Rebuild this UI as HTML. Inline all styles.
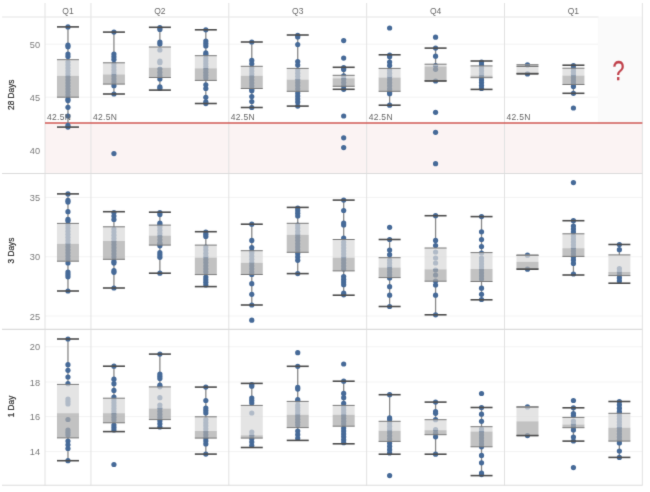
<!DOCTYPE html><html><head><meta charset="utf-8"><style>html,body{margin:0;padding:0;background:#fff;}svg{display:block;}</style></head><body>
<svg width="650" height="492" viewBox="0 0 650 492" font-family="Liberation Sans, sans-serif">
<defs><filter id="bl" x="0" y="0" width="650" height="492" filterUnits="userSpaceOnUse" color-interpolation-filters="sRGB"><feConvolveMatrix order="3" kernelMatrix="0.01134 0.08382 0.01134 0.08382 0.61935 0.08382 0.01134 0.08382 0.01134" edgeMode="duplicate"/></filter></defs><g filter="url(#bl)">
<rect x="0" y="0" width="650" height="492" fill="#fff"/>
<rect x="45.00" y="122.90" width="597.35" height="50.60" fill="#fbf3f3"/>
<line x1="45.0" x2="642.35" y1="44.2" y2="44.2" stroke="#f3f3f3" stroke-width="1"/>
<line x1="45.0" x2="642.35" y1="97.2" y2="97.2" stroke="#f3f3f3" stroke-width="1"/>
<line x1="45.0" x2="642.35" y1="197.4" y2="197.4" stroke="#f3f3f3" stroke-width="1"/>
<line x1="45.0" x2="642.35" y1="256.8" y2="256.8" stroke="#f3f3f3" stroke-width="1"/>
<line x1="45.0" x2="642.35" y1="316.0" y2="316.0" stroke="#f3f3f3" stroke-width="1"/>
<line x1="45.0" x2="642.35" y1="346.8" y2="346.8" stroke="#f3f3f3" stroke-width="1"/>
<line x1="45.0" x2="642.35" y1="382.0" y2="382.0" stroke="#f3f3f3" stroke-width="1"/>
<line x1="45.0" x2="642.35" y1="416.6" y2="416.6" stroke="#f3f3f3" stroke-width="1"/>
<line x1="45.0" x2="642.35" y1="451.6" y2="451.6" stroke="#f3f3f3" stroke-width="1"/>
<rect x="597.8" y="16.5" width="44.55" height="106.40" fill="#fafafa"/>
<line x1="45.00" x2="45.00" y1="3" y2="485.5" stroke="#e2e2e2" stroke-width="1"/>
<line x1="90.95" x2="90.95" y1="3" y2="485.5" stroke="#e2e2e2" stroke-width="1"/>
<line x1="228.80" x2="228.80" y1="3" y2="485.5" stroke="#e2e2e2" stroke-width="1"/>
<line x1="366.65" x2="366.65" y1="3" y2="485.5" stroke="#e2e2e2" stroke-width="1"/>
<line x1="504.50" x2="504.50" y1="3" y2="485.5" stroke="#e2e2e2" stroke-width="1"/>
<line x1="642.35" x2="642.35" y1="3" y2="485.5" stroke="#e2e2e2" stroke-width="1"/>
<line x1="2" x2="598.50" y1="17.0" y2="17.0" stroke="#e6e6e6" stroke-width="1.1"/>
<line x1="2" x2="642.35" y1="173.5" y2="173.5" stroke="#dcdcdc" stroke-width="1.1"/>
<line x1="2" x2="642.35" y1="329.4" y2="329.4" stroke="#dcdcdc" stroke-width="1.1"/>
<line x1="2" x2="642.35" y1="485.2" y2="485.2" stroke="#dcdcdc" stroke-width="1.1"/>
<text x="67.97" y="14.3" font-size="8.5" fill="#6a6a6a" text-anchor="middle">Q1</text>
<text x="159.88" y="14.3" font-size="8.5" fill="#6a6a6a" text-anchor="middle">Q2</text>
<text x="297.73" y="14.3" font-size="8.5" fill="#6a6a6a" text-anchor="middle">Q3</text>
<text x="435.58" y="14.3" font-size="8.5" fill="#6a6a6a" text-anchor="middle">Q4</text>
<text x="573.43" y="14.3" font-size="8.5" fill="#6a6a6a" text-anchor="middle">Q1</text>
<text transform="translate(14.4 94.7) rotate(-90)" font-size="8.3" fill="#2a2a2a" stroke="#2a2a2a" stroke-width="0.2" text-anchor="middle">28 Days</text>
<text x="40.1" y="47.70" font-size="9.2" fill="#7a7a7a" text-anchor="end">50</text>
<text x="40.1" y="100.70" font-size="9.2" fill="#7a7a7a" text-anchor="end">45</text>
<text x="40.1" y="153.70" font-size="9.2" fill="#7a7a7a" text-anchor="end">40</text>
<text transform="translate(14.4 250.5) rotate(-90)" font-size="8.3" fill="#2a2a2a" stroke="#2a2a2a" stroke-width="0.2" text-anchor="middle">3 Days</text>
<text x="40.1" y="200.90" font-size="9.2" fill="#7a7a7a" text-anchor="end">35</text>
<text x="40.1" y="260.30" font-size="9.2" fill="#7a7a7a" text-anchor="end">30</text>
<text x="40.1" y="319.50" font-size="9.2" fill="#7a7a7a" text-anchor="end">25</text>
<text transform="translate(14.4 406.5) rotate(-90)" font-size="8.3" fill="#2a2a2a" stroke="#2a2a2a" stroke-width="0.2" text-anchor="middle">1 Day</text>
<text x="40.1" y="350.30" font-size="9.2" fill="#7a7a7a" text-anchor="end">20</text>
<text x="40.1" y="385.50" font-size="9.2" fill="#7a7a7a" text-anchor="end">18</text>
<text x="40.1" y="420.10" font-size="9.2" fill="#7a7a7a" text-anchor="end">16</text>
<text x="40.1" y="455.10" font-size="9.2" fill="#7a7a7a" text-anchor="end">14</text>
<line x1="45.0" x2="642.35" y1="122.9" y2="122.9" stroke="#d05a56" stroke-width="1.5"/>
<line x1="67.97" x2="67.97" y1="26.9" y2="59.7" stroke="#888888" stroke-width="1.3"/>
<line x1="67.97" x2="67.97" y1="97.2" y2="127.1" stroke="#888888" stroke-width="1.3"/>
<circle cx="67.97" cy="26.90" r="2.6" fill="#466a98"/>
<circle cx="67.97" cy="45.20" r="2.6" fill="#466a98"/>
<circle cx="67.97" cy="46.80" r="2.6" fill="#466a98"/>
<circle cx="67.97" cy="54.00" r="2.6" fill="#466a98"/>
<circle cx="67.97" cy="56.50" r="2.6" fill="#466a98"/>
<circle cx="67.97" cy="62.00" r="2.6" fill="#466a98"/>
<circle cx="67.97" cy="65.00" r="2.6" fill="#466a98"/>
<circle cx="67.97" cy="68.00" r="2.6" fill="#466a98"/>
<circle cx="67.97" cy="71.00" r="2.6" fill="#466a98"/>
<circle cx="67.97" cy="74.00" r="2.6" fill="#466a98"/>
<circle cx="67.97" cy="77.00" r="2.6" fill="#466a98"/>
<circle cx="67.97" cy="80.00" r="2.6" fill="#466a98"/>
<circle cx="67.97" cy="83.00" r="2.6" fill="#466a98"/>
<circle cx="67.97" cy="86.00" r="2.6" fill="#466a98"/>
<circle cx="67.97" cy="89.00" r="2.6" fill="#466a98"/>
<circle cx="67.97" cy="92.00" r="2.6" fill="#466a98"/>
<circle cx="67.97" cy="95.00" r="2.6" fill="#466a98"/>
<circle cx="67.97" cy="99.00" r="2.6" fill="#466a98"/>
<circle cx="67.97" cy="100.60" r="2.6" fill="#466a98"/>
<circle cx="67.97" cy="107.30" r="2.6" fill="#466a98"/>
<circle cx="67.97" cy="116.00" r="2.6" fill="#466a98"/>
<circle cx="67.97" cy="125.40" r="2.6" fill="#466a98"/>
<circle cx="67.97" cy="127.10" r="2.6" fill="#466a98"/>
<rect x="56.97" y="59.7" width="22.0" height="16.20" fill="#d9d9d9" fill-opacity="0.72"/>
<rect x="56.97" y="75.9" width="22.0" height="21.30" fill="#ababab" fill-opacity="0.72"/>
<line x1="56.97" x2="78.97" y1="59.7" y2="59.7" stroke="#7a7a7a" stroke-width="1"/>
<line x1="56.97" x2="78.97" y1="97.2" y2="97.2" stroke="#7a7a7a" stroke-width="1"/>
<line x1="56.97" x2="78.97" y1="26.9" y2="26.9" stroke="#4d4d4d" stroke-width="1.6"/>
<line x1="56.97" x2="78.97" y1="127.1" y2="127.1" stroke="#4d4d4d" stroke-width="1.6"/>
<line x1="113.93" x2="113.93" y1="32.1" y2="62.8" stroke="#888888" stroke-width="1.3"/>
<line x1="113.93" x2="113.93" y1="84.1" y2="94.0" stroke="#888888" stroke-width="1.3"/>
<circle cx="113.93" cy="32.10" r="2.6" fill="#466a98"/>
<circle cx="113.93" cy="54.00" r="2.6" fill="#466a98"/>
<circle cx="113.93" cy="56.75" r="2.6" fill="#466a98"/>
<circle cx="113.93" cy="59.50" r="2.6" fill="#466a98"/>
<circle cx="113.93" cy="64.00" r="2.6" fill="#466a98"/>
<circle cx="113.93" cy="67.00" r="2.6" fill="#466a98"/>
<circle cx="113.93" cy="70.00" r="2.6" fill="#466a98"/>
<circle cx="113.93" cy="73.00" r="2.6" fill="#466a98"/>
<circle cx="113.93" cy="76.00" r="2.6" fill="#466a98"/>
<circle cx="113.93" cy="79.00" r="2.6" fill="#466a98"/>
<circle cx="113.93" cy="82.00" r="2.6" fill="#466a98"/>
<circle cx="113.93" cy="85.70" r="2.6" fill="#466a98"/>
<circle cx="113.93" cy="94.00" r="2.6" fill="#466a98"/>
<circle cx="113.93" cy="153.60" r="2.6" fill="#466a98"/>
<rect x="102.93" y="62.8" width="22.0" height="11.60" fill="#d9d9d9" fill-opacity="0.72"/>
<rect x="102.93" y="74.4" width="22.0" height="9.70" fill="#ababab" fill-opacity="0.72"/>
<line x1="102.93" x2="124.93" y1="62.8" y2="62.8" stroke="#7a7a7a" stroke-width="1"/>
<line x1="102.93" x2="124.93" y1="84.1" y2="84.1" stroke="#7a7a7a" stroke-width="1"/>
<line x1="102.93" x2="124.93" y1="32.1" y2="32.1" stroke="#4d4d4d" stroke-width="1.6"/>
<line x1="102.93" x2="124.93" y1="94.0" y2="94.0" stroke="#4d4d4d" stroke-width="1.6"/>
<line x1="159.88" x2="159.88" y1="27.3" y2="47.0" stroke="#888888" stroke-width="1.3"/>
<line x1="159.88" x2="159.88" y1="77.5" y2="90.1" stroke="#888888" stroke-width="1.3"/>
<circle cx="159.88" cy="27.70" r="2.6" fill="#466a98"/>
<circle cx="159.88" cy="29.50" r="2.6" fill="#466a98"/>
<circle cx="159.88" cy="42.00" r="2.6" fill="#466a98"/>
<circle cx="159.88" cy="44.00" r="2.6" fill="#466a98"/>
<circle cx="159.88" cy="50.00" r="2.6" fill="#466a98"/>
<circle cx="159.88" cy="61.15" r="2.6" fill="#466a98"/>
<circle cx="159.88" cy="62.75" r="2.6" fill="#466a98"/>
<circle cx="159.88" cy="69.00" r="2.6" fill="#466a98"/>
<circle cx="159.88" cy="72.33" r="2.6" fill="#466a98"/>
<circle cx="159.88" cy="75.67" r="2.6" fill="#466a98"/>
<circle cx="159.88" cy="79.00" r="2.6" fill="#466a98"/>
<circle cx="159.88" cy="86.80" r="2.6" fill="#466a98"/>
<circle cx="159.88" cy="88.40" r="2.6" fill="#466a98"/>
<rect x="148.88" y="47.0" width="22.0" height="20.70" fill="#d9d9d9" fill-opacity="0.72"/>
<rect x="148.88" y="67.7" width="22.0" height="9.80" fill="#ababab" fill-opacity="0.72"/>
<line x1="148.88" x2="170.88" y1="47.0" y2="47.0" stroke="#7a7a7a" stroke-width="1"/>
<line x1="148.88" x2="170.88" y1="77.5" y2="77.5" stroke="#7a7a7a" stroke-width="1"/>
<line x1="148.88" x2="170.88" y1="27.3" y2="27.3" stroke="#4d4d4d" stroke-width="1.6"/>
<line x1="148.88" x2="170.88" y1="90.1" y2="90.1" stroke="#4d4d4d" stroke-width="1.6"/>
<line x1="205.83" x2="205.83" y1="29.8" y2="55.7" stroke="#888888" stroke-width="1.3"/>
<line x1="205.83" x2="205.83" y1="80.4" y2="103.5" stroke="#888888" stroke-width="1.3"/>
<circle cx="205.83" cy="29.80" r="2.6" fill="#466a98"/>
<circle cx="205.83" cy="41.00" r="2.6" fill="#466a98"/>
<circle cx="205.83" cy="43.50" r="2.6" fill="#466a98"/>
<circle cx="205.83" cy="46.00" r="2.6" fill="#466a98"/>
<circle cx="205.83" cy="52.95" r="2.6" fill="#466a98"/>
<circle cx="205.83" cy="54.55" r="2.6" fill="#466a98"/>
<circle cx="205.83" cy="58.00" r="2.6" fill="#466a98"/>
<circle cx="205.83" cy="60.86" r="2.6" fill="#466a98"/>
<circle cx="205.83" cy="63.71" r="2.6" fill="#466a98"/>
<circle cx="205.83" cy="66.57" r="2.6" fill="#466a98"/>
<circle cx="205.83" cy="69.43" r="2.6" fill="#466a98"/>
<circle cx="205.83" cy="72.29" r="2.6" fill="#466a98"/>
<circle cx="205.83" cy="75.14" r="2.6" fill="#466a98"/>
<circle cx="205.83" cy="78.00" r="2.6" fill="#466a98"/>
<circle cx="205.83" cy="84.80" r="2.6" fill="#466a98"/>
<circle cx="205.83" cy="88.50" r="2.6" fill="#466a98"/>
<circle cx="205.83" cy="97.30" r="2.6" fill="#466a98"/>
<circle cx="205.83" cy="101.95" r="2.6" fill="#466a98"/>
<circle cx="205.83" cy="103.55" r="2.6" fill="#466a98"/>
<rect x="194.83" y="55.7" width="22.0" height="12.60" fill="#d9d9d9" fill-opacity="0.72"/>
<rect x="194.83" y="68.3" width="22.0" height="12.10" fill="#ababab" fill-opacity="0.72"/>
<line x1="194.83" x2="216.83" y1="55.7" y2="55.7" stroke="#7a7a7a" stroke-width="1"/>
<line x1="194.83" x2="216.83" y1="80.4" y2="80.4" stroke="#7a7a7a" stroke-width="1"/>
<line x1="194.83" x2="216.83" y1="29.8" y2="29.8" stroke="#4d4d4d" stroke-width="1.6"/>
<line x1="194.83" x2="216.83" y1="103.5" y2="103.5" stroke="#4d4d4d" stroke-width="1.6"/>
<line x1="251.78" x2="251.78" y1="42.0" y2="66.3" stroke="#888888" stroke-width="1.3"/>
<line x1="251.78" x2="251.78" y1="88.5" y2="107.5" stroke="#888888" stroke-width="1.3"/>
<circle cx="251.78" cy="42.00" r="2.6" fill="#466a98"/>
<circle cx="251.78" cy="60.40" r="2.6" fill="#466a98"/>
<circle cx="251.78" cy="63.80" r="2.6" fill="#466a98"/>
<circle cx="251.78" cy="68.00" r="2.6" fill="#466a98"/>
<circle cx="251.78" cy="71.00" r="2.6" fill="#466a98"/>
<circle cx="251.78" cy="74.00" r="2.6" fill="#466a98"/>
<circle cx="251.78" cy="77.00" r="2.6" fill="#466a98"/>
<circle cx="251.78" cy="80.00" r="2.6" fill="#466a98"/>
<circle cx="251.78" cy="83.00" r="2.6" fill="#466a98"/>
<circle cx="251.78" cy="86.00" r="2.6" fill="#466a98"/>
<circle cx="251.78" cy="89.20" r="2.6" fill="#466a98"/>
<circle cx="251.78" cy="90.80" r="2.6" fill="#466a98"/>
<circle cx="251.78" cy="96.60" r="2.6" fill="#466a98"/>
<circle cx="251.78" cy="101.50" r="2.6" fill="#466a98"/>
<circle cx="251.78" cy="107.50" r="2.6" fill="#466a98"/>
<rect x="240.78" y="66.3" width="22.0" height="9.50" fill="#d9d9d9" fill-opacity="0.72"/>
<rect x="240.78" y="75.8" width="22.0" height="12.70" fill="#ababab" fill-opacity="0.72"/>
<line x1="240.78" x2="262.77" y1="66.3" y2="66.3" stroke="#7a7a7a" stroke-width="1"/>
<line x1="240.78" x2="262.77" y1="88.5" y2="88.5" stroke="#7a7a7a" stroke-width="1"/>
<line x1="240.78" x2="262.77" y1="42.0" y2="42.0" stroke="#4d4d4d" stroke-width="1.6"/>
<line x1="240.78" x2="262.77" y1="107.5" y2="107.5" stroke="#4d4d4d" stroke-width="1.6"/>
<line x1="297.73" x2="297.73" y1="35.0" y2="68.4" stroke="#888888" stroke-width="1.3"/>
<line x1="297.73" x2="297.73" y1="91.3" y2="106.1" stroke="#888888" stroke-width="1.3"/>
<circle cx="297.73" cy="35.30" r="2.6" fill="#466a98"/>
<circle cx="297.73" cy="36.90" r="2.6" fill="#466a98"/>
<circle cx="297.73" cy="44.60" r="2.6" fill="#466a98"/>
<circle cx="297.73" cy="61.50" r="2.6" fill="#466a98"/>
<circle cx="297.73" cy="65.00" r="2.6" fill="#466a98"/>
<circle cx="297.73" cy="70.00" r="2.6" fill="#466a98"/>
<circle cx="297.73" cy="73.17" r="2.6" fill="#466a98"/>
<circle cx="297.73" cy="76.33" r="2.6" fill="#466a98"/>
<circle cx="297.73" cy="79.50" r="2.6" fill="#466a98"/>
<circle cx="297.73" cy="82.67" r="2.6" fill="#466a98"/>
<circle cx="297.73" cy="85.83" r="2.6" fill="#466a98"/>
<circle cx="297.73" cy="89.00" r="2.6" fill="#466a98"/>
<circle cx="297.73" cy="93.00" r="2.6" fill="#466a98"/>
<circle cx="297.73" cy="96.00" r="2.6" fill="#466a98"/>
<circle cx="297.73" cy="99.00" r="2.6" fill="#466a98"/>
<circle cx="297.73" cy="102.00" r="2.6" fill="#466a98"/>
<circle cx="297.73" cy="106.10" r="2.6" fill="#466a98"/>
<rect x="286.73" y="68.4" width="22.0" height="11.20" fill="#d9d9d9" fill-opacity="0.72"/>
<rect x="286.73" y="79.6" width="22.0" height="11.70" fill="#ababab" fill-opacity="0.72"/>
<line x1="286.73" x2="308.73" y1="68.4" y2="68.4" stroke="#7a7a7a" stroke-width="1"/>
<line x1="286.73" x2="308.73" y1="91.3" y2="91.3" stroke="#7a7a7a" stroke-width="1"/>
<line x1="286.73" x2="308.73" y1="35.0" y2="35.0" stroke="#4d4d4d" stroke-width="1.6"/>
<line x1="286.73" x2="308.73" y1="106.1" y2="106.1" stroke="#4d4d4d" stroke-width="1.6"/>
<line x1="343.68" x2="343.68" y1="67.3" y2="75.3" stroke="#888888" stroke-width="1.3"/>
<line x1="343.68" x2="343.68" y1="86.3" y2="89.3" stroke="#888888" stroke-width="1.3"/>
<circle cx="343.68" cy="40.60" r="2.6" fill="#466a98"/>
<circle cx="343.68" cy="58.10" r="2.6" fill="#466a98"/>
<circle cx="343.68" cy="116.00" r="2.6" fill="#466a98"/>
<circle cx="343.68" cy="137.80" r="2.6" fill="#466a98"/>
<circle cx="343.68" cy="147.60" r="2.6" fill="#466a98"/>
<circle cx="343.68" cy="67.70" r="2.6" fill="#466a98"/>
<circle cx="343.68" cy="69.40" r="2.6" fill="#466a98"/>
<circle cx="343.68" cy="75.80" r="2.6" fill="#466a98"/>
<circle cx="343.68" cy="79.17" r="2.6" fill="#466a98"/>
<circle cx="343.68" cy="82.55" r="2.6" fill="#466a98"/>
<circle cx="343.68" cy="85.92" r="2.6" fill="#466a98"/>
<circle cx="343.68" cy="89.30" r="2.6" fill="#466a98"/>
<rect x="332.68" y="75.3" width="22.0" height="3.00" fill="#d9d9d9" fill-opacity="0.72"/>
<rect x="332.68" y="78.3" width="22.0" height="8.00" fill="#ababab" fill-opacity="0.72"/>
<line x1="332.68" x2="354.68" y1="75.3" y2="75.3" stroke="#7a7a7a" stroke-width="1"/>
<line x1="332.68" x2="354.68" y1="86.3" y2="86.3" stroke="#7a7a7a" stroke-width="1"/>
<line x1="332.68" x2="354.68" y1="67.3" y2="67.3" stroke="#4d4d4d" stroke-width="1.6"/>
<line x1="332.68" x2="354.68" y1="89.3" y2="89.3" stroke="#4d4d4d" stroke-width="1.6"/>
<line x1="389.62" x2="389.62" y1="54.8" y2="68.4" stroke="#888888" stroke-width="1.3"/>
<line x1="389.62" x2="389.62" y1="91.3" y2="105.2" stroke="#888888" stroke-width="1.3"/>
<circle cx="389.62" cy="28.00" r="2.6" fill="#466a98"/>
<circle cx="389.62" cy="55.20" r="2.6" fill="#466a98"/>
<circle cx="389.62" cy="56.80" r="2.6" fill="#466a98"/>
<circle cx="389.62" cy="62.00" r="2.6" fill="#466a98"/>
<circle cx="389.62" cy="65.50" r="2.6" fill="#466a98"/>
<circle cx="389.62" cy="70.00" r="2.6" fill="#466a98"/>
<circle cx="389.62" cy="73.17" r="2.6" fill="#466a98"/>
<circle cx="389.62" cy="76.33" r="2.6" fill="#466a98"/>
<circle cx="389.62" cy="79.50" r="2.6" fill="#466a98"/>
<circle cx="389.62" cy="82.67" r="2.6" fill="#466a98"/>
<circle cx="389.62" cy="85.83" r="2.6" fill="#466a98"/>
<circle cx="389.62" cy="89.00" r="2.6" fill="#466a98"/>
<circle cx="389.62" cy="92.10" r="2.6" fill="#466a98"/>
<circle cx="389.62" cy="93.70" r="2.6" fill="#466a98"/>
<circle cx="389.62" cy="105.20" r="2.6" fill="#466a98"/>
<rect x="378.62" y="68.4" width="22.0" height="9.10" fill="#d9d9d9" fill-opacity="0.72"/>
<rect x="378.62" y="77.5" width="22.0" height="13.80" fill="#ababab" fill-opacity="0.72"/>
<line x1="378.62" x2="400.62" y1="68.4" y2="68.4" stroke="#7a7a7a" stroke-width="1"/>
<line x1="378.62" x2="400.62" y1="91.3" y2="91.3" stroke="#7a7a7a" stroke-width="1"/>
<line x1="378.62" x2="400.62" y1="54.8" y2="54.8" stroke="#4d4d4d" stroke-width="1.6"/>
<line x1="378.62" x2="400.62" y1="105.2" y2="105.2" stroke="#4d4d4d" stroke-width="1.6"/>
<line x1="435.58" x2="435.58" y1="48.1" y2="64.2" stroke="#888888" stroke-width="1.3"/>
<line x1="435.58" x2="435.58" y1="80.8" y2="81.0" stroke="#888888" stroke-width="1.3"/>
<circle cx="435.58" cy="37.20" r="2.6" fill="#466a98"/>
<circle cx="435.58" cy="48.10" r="2.6" fill="#466a98"/>
<circle cx="435.58" cy="56.20" r="2.6" fill="#466a98"/>
<circle cx="435.58" cy="65.50" r="2.6" fill="#466a98"/>
<circle cx="435.58" cy="69.30" r="2.6" fill="#466a98"/>
<circle cx="435.58" cy="81.00" r="2.6" fill="#466a98"/>
<circle cx="435.58" cy="112.30" r="2.6" fill="#466a98"/>
<circle cx="435.58" cy="132.30" r="2.6" fill="#466a98"/>
<circle cx="435.58" cy="163.70" r="2.6" fill="#466a98"/>
<rect x="424.58" y="64.2" width="22.0" height="2.20" fill="#d9d9d9" fill-opacity="0.72"/>
<rect x="424.58" y="66.4" width="22.0" height="14.40" fill="#ababab" fill-opacity="0.72"/>
<line x1="424.58" x2="446.58" y1="64.2" y2="64.2" stroke="#7a7a7a" stroke-width="1"/>
<line x1="424.58" x2="446.58" y1="80.8" y2="80.8" stroke="#7a7a7a" stroke-width="1"/>
<line x1="424.58" x2="446.58" y1="48.1" y2="48.1" stroke="#4d4d4d" stroke-width="1.6"/>
<line x1="424.58" x2="446.58" y1="81.0" y2="81.0" stroke="#4d4d4d" stroke-width="1.6"/>
<line x1="481.53" x2="481.53" y1="61.0" y2="65.9" stroke="#888888" stroke-width="1.3"/>
<line x1="481.53" x2="481.53" y1="77.7" y2="89.4" stroke="#888888" stroke-width="1.3"/>
<circle cx="481.53" cy="62.00" r="2.6" fill="#466a98"/>
<circle cx="481.53" cy="64.94" r="2.6" fill="#466a98"/>
<circle cx="481.53" cy="67.89" r="2.6" fill="#466a98"/>
<circle cx="481.53" cy="70.83" r="2.6" fill="#466a98"/>
<circle cx="481.53" cy="73.78" r="2.6" fill="#466a98"/>
<circle cx="481.53" cy="76.72" r="2.6" fill="#466a98"/>
<circle cx="481.53" cy="79.67" r="2.6" fill="#466a98"/>
<circle cx="481.53" cy="82.61" r="2.6" fill="#466a98"/>
<circle cx="481.53" cy="85.56" r="2.6" fill="#466a98"/>
<circle cx="481.53" cy="88.50" r="2.6" fill="#466a98"/>
<rect x="470.53" y="65.9" width="22.0" height="9.70" fill="#d9d9d9" fill-opacity="0.72"/>
<rect x="470.53" y="75.6" width="22.0" height="2.10" fill="#ababab" fill-opacity="0.72"/>
<line x1="470.53" x2="492.53" y1="65.9" y2="65.9" stroke="#7a7a7a" stroke-width="1"/>
<line x1="470.53" x2="492.53" y1="77.7" y2="77.7" stroke="#7a7a7a" stroke-width="1"/>
<line x1="470.53" x2="492.53" y1="61.0" y2="61.0" stroke="#4d4d4d" stroke-width="1.6"/>
<line x1="470.53" x2="492.53" y1="89.4" y2="89.4" stroke="#4d4d4d" stroke-width="1.6"/>
<line x1="527.48" x2="527.48" y1="64.9" y2="66.5" stroke="#888888" stroke-width="1.3"/>
<line x1="527.48" x2="527.48" y1="73.5" y2="73.9" stroke="#888888" stroke-width="1.3"/>
<circle cx="527.48" cy="64.90" r="2.6" fill="#466a98"/>
<circle cx="527.48" cy="73.90" r="2.6" fill="#466a98"/>
<rect x="516.48" y="66.5" width="22.0" height="5.50" fill="#d9d9d9" fill-opacity="0.72"/>
<rect x="516.48" y="72.0" width="22.0" height="1.50" fill="#ababab" fill-opacity="0.72"/>
<line x1="516.48" x2="538.48" y1="66.5" y2="66.5" stroke="#7a7a7a" stroke-width="1"/>
<line x1="516.48" x2="538.48" y1="73.5" y2="73.5" stroke="#7a7a7a" stroke-width="1"/>
<line x1="516.48" x2="538.48" y1="64.9" y2="64.9" stroke="#8a8a8a" stroke-width="1.6"/>
<line x1="516.48" x2="538.48" y1="73.9" y2="73.9" stroke="#4d4d4d" stroke-width="1.6"/>
<line x1="573.43" x2="573.43" y1="65.2" y2="68.2" stroke="#888888" stroke-width="1.3"/>
<line x1="573.43" x2="573.43" y1="84.5" y2="93.3" stroke="#888888" stroke-width="1.3"/>
<circle cx="573.43" cy="65.50" r="2.6" fill="#466a98"/>
<circle cx="573.43" cy="68.49" r="2.6" fill="#466a98"/>
<circle cx="573.43" cy="71.47" r="2.6" fill="#466a98"/>
<circle cx="573.43" cy="74.46" r="2.6" fill="#466a98"/>
<circle cx="573.43" cy="77.44" r="2.6" fill="#466a98"/>
<circle cx="573.43" cy="80.43" r="2.6" fill="#466a98"/>
<circle cx="573.43" cy="83.41" r="2.6" fill="#466a98"/>
<circle cx="573.43" cy="86.40" r="2.6" fill="#466a98"/>
<circle cx="573.43" cy="93.30" r="2.6" fill="#466a98"/>
<circle cx="573.43" cy="108.00" r="2.6" fill="#466a98"/>
<rect x="562.43" y="68.2" width="22.0" height="7.40" fill="#d9d9d9" fill-opacity="0.72"/>
<rect x="562.43" y="75.6" width="22.0" height="8.90" fill="#ababab" fill-opacity="0.72"/>
<line x1="562.43" x2="584.43" y1="68.2" y2="68.2" stroke="#7a7a7a" stroke-width="1"/>
<line x1="562.43" x2="584.43" y1="84.5" y2="84.5" stroke="#7a7a7a" stroke-width="1"/>
<line x1="562.43" x2="584.43" y1="65.2" y2="65.2" stroke="#4d4d4d" stroke-width="1.6"/>
<line x1="562.43" x2="584.43" y1="93.3" y2="93.3" stroke="#4d4d4d" stroke-width="1.6"/>
<line x1="67.97" x2="67.97" y1="193.9" y2="223.4" stroke="#888888" stroke-width="1.3"/>
<line x1="67.97" x2="67.97" y1="261.2" y2="291.0" stroke="#888888" stroke-width="1.3"/>
<circle cx="67.97" cy="193.90" r="2.6" fill="#466a98"/>
<circle cx="67.97" cy="200.45" r="2.6" fill="#466a98"/>
<circle cx="67.97" cy="202.05" r="2.6" fill="#466a98"/>
<circle cx="67.97" cy="211.70" r="2.6" fill="#466a98"/>
<circle cx="67.97" cy="219.45" r="2.6" fill="#466a98"/>
<circle cx="67.97" cy="221.05" r="2.6" fill="#466a98"/>
<circle cx="67.97" cy="225.00" r="2.6" fill="#466a98"/>
<circle cx="67.97" cy="228.09" r="2.6" fill="#466a98"/>
<circle cx="67.97" cy="231.18" r="2.6" fill="#466a98"/>
<circle cx="67.97" cy="234.27" r="2.6" fill="#466a98"/>
<circle cx="67.97" cy="237.36" r="2.6" fill="#466a98"/>
<circle cx="67.97" cy="240.45" r="2.6" fill="#466a98"/>
<circle cx="67.97" cy="243.55" r="2.6" fill="#466a98"/>
<circle cx="67.97" cy="246.64" r="2.6" fill="#466a98"/>
<circle cx="67.97" cy="249.73" r="2.6" fill="#466a98"/>
<circle cx="67.97" cy="252.82" r="2.6" fill="#466a98"/>
<circle cx="67.97" cy="255.91" r="2.6" fill="#466a98"/>
<circle cx="67.97" cy="259.00" r="2.6" fill="#466a98"/>
<circle cx="67.97" cy="263.00" r="2.6" fill="#466a98"/>
<circle cx="67.97" cy="272.00" r="2.6" fill="#466a98"/>
<circle cx="67.97" cy="274.40" r="2.6" fill="#466a98"/>
<circle cx="67.97" cy="276.80" r="2.6" fill="#466a98"/>
<circle cx="67.97" cy="291.00" r="2.6" fill="#466a98"/>
<rect x="56.97" y="223.4" width="22.0" height="20.50" fill="#d9d9d9" fill-opacity="0.72"/>
<rect x="56.97" y="243.9" width="22.0" height="17.30" fill="#ababab" fill-opacity="0.72"/>
<line x1="56.97" x2="78.97" y1="223.4" y2="223.4" stroke="#7a7a7a" stroke-width="1"/>
<line x1="56.97" x2="78.97" y1="261.2" y2="261.2" stroke="#7a7a7a" stroke-width="1"/>
<line x1="56.97" x2="78.97" y1="193.9" y2="193.9" stroke="#4d4d4d" stroke-width="1.6"/>
<line x1="56.97" x2="78.97" y1="291.0" y2="291.0" stroke="#4d4d4d" stroke-width="1.6"/>
<line x1="113.93" x2="113.93" y1="211.7" y2="226.8" stroke="#888888" stroke-width="1.3"/>
<line x1="113.93" x2="113.93" y1="259.3" y2="288.0" stroke="#888888" stroke-width="1.3"/>
<circle cx="113.93" cy="212.50" r="2.6" fill="#466a98"/>
<circle cx="113.93" cy="216.00" r="2.6" fill="#466a98"/>
<circle cx="113.93" cy="219.50" r="2.6" fill="#466a98"/>
<circle cx="113.93" cy="229.00" r="2.6" fill="#466a98"/>
<circle cx="113.93" cy="232.11" r="2.6" fill="#466a98"/>
<circle cx="113.93" cy="235.22" r="2.6" fill="#466a98"/>
<circle cx="113.93" cy="238.33" r="2.6" fill="#466a98"/>
<circle cx="113.93" cy="241.44" r="2.6" fill="#466a98"/>
<circle cx="113.93" cy="244.56" r="2.6" fill="#466a98"/>
<circle cx="113.93" cy="247.67" r="2.6" fill="#466a98"/>
<circle cx="113.93" cy="250.78" r="2.6" fill="#466a98"/>
<circle cx="113.93" cy="253.89" r="2.6" fill="#466a98"/>
<circle cx="113.93" cy="257.00" r="2.6" fill="#466a98"/>
<circle cx="113.93" cy="261.45" r="2.6" fill="#466a98"/>
<circle cx="113.93" cy="263.05" r="2.6" fill="#466a98"/>
<circle cx="113.93" cy="270.70" r="2.6" fill="#466a98"/>
<circle cx="113.93" cy="272.30" r="2.6" fill="#466a98"/>
<circle cx="113.93" cy="288.00" r="2.6" fill="#466a98"/>
<rect x="102.93" y="226.8" width="22.0" height="14.20" fill="#d9d9d9" fill-opacity="0.72"/>
<rect x="102.93" y="241.0" width="22.0" height="18.30" fill="#ababab" fill-opacity="0.72"/>
<line x1="102.93" x2="124.93" y1="226.8" y2="226.8" stroke="#7a7a7a" stroke-width="1"/>
<line x1="102.93" x2="124.93" y1="259.3" y2="259.3" stroke="#7a7a7a" stroke-width="1"/>
<line x1="102.93" x2="124.93" y1="211.7" y2="211.7" stroke="#4d4d4d" stroke-width="1.6"/>
<line x1="102.93" x2="124.93" y1="288.0" y2="288.0" stroke="#4d4d4d" stroke-width="1.6"/>
<line x1="159.88" x2="159.88" y1="212.2" y2="225.1" stroke="#888888" stroke-width="1.3"/>
<line x1="159.88" x2="159.88" y1="245.1" y2="273.2" stroke="#888888" stroke-width="1.3"/>
<circle cx="159.88" cy="212.50" r="2.6" fill="#466a98"/>
<circle cx="159.88" cy="214.60" r="2.6" fill="#466a98"/>
<circle cx="159.88" cy="223.05" r="2.6" fill="#466a98"/>
<circle cx="159.88" cy="224.65" r="2.6" fill="#466a98"/>
<circle cx="159.88" cy="227.00" r="2.6" fill="#466a98"/>
<circle cx="159.88" cy="230.20" r="2.6" fill="#466a98"/>
<circle cx="159.88" cy="233.40" r="2.6" fill="#466a98"/>
<circle cx="159.88" cy="236.60" r="2.6" fill="#466a98"/>
<circle cx="159.88" cy="239.80" r="2.6" fill="#466a98"/>
<circle cx="159.88" cy="243.00" r="2.6" fill="#466a98"/>
<circle cx="159.88" cy="244.20" r="2.6" fill="#466a98"/>
<circle cx="159.88" cy="245.80" r="2.6" fill="#466a98"/>
<circle cx="159.88" cy="252.70" r="2.6" fill="#466a98"/>
<circle cx="159.88" cy="255.00" r="2.6" fill="#466a98"/>
<circle cx="159.88" cy="257.30" r="2.6" fill="#466a98"/>
<circle cx="159.88" cy="273.20" r="2.6" fill="#466a98"/>
<rect x="148.88" y="225.1" width="22.0" height="10.50" fill="#d9d9d9" fill-opacity="0.72"/>
<rect x="148.88" y="235.6" width="22.0" height="9.50" fill="#ababab" fill-opacity="0.72"/>
<line x1="148.88" x2="170.88" y1="225.1" y2="225.1" stroke="#7a7a7a" stroke-width="1"/>
<line x1="148.88" x2="170.88" y1="245.1" y2="245.1" stroke="#7a7a7a" stroke-width="1"/>
<line x1="148.88" x2="170.88" y1="212.2" y2="212.2" stroke="#4d4d4d" stroke-width="1.6"/>
<line x1="148.88" x2="170.88" y1="273.2" y2="273.2" stroke="#4d4d4d" stroke-width="1.6"/>
<line x1="205.83" x2="205.83" y1="231.7" y2="245.1" stroke="#888888" stroke-width="1.3"/>
<line x1="205.83" x2="205.83" y1="274.6" y2="286.6" stroke="#888888" stroke-width="1.3"/>
<circle cx="205.83" cy="232.00" r="2.6" fill="#466a98"/>
<circle cx="205.83" cy="234.25" r="2.6" fill="#466a98"/>
<circle cx="205.83" cy="236.50" r="2.6" fill="#466a98"/>
<circle cx="205.83" cy="247.00" r="2.6" fill="#466a98"/>
<circle cx="205.83" cy="250.12" r="2.6" fill="#466a98"/>
<circle cx="205.83" cy="253.25" r="2.6" fill="#466a98"/>
<circle cx="205.83" cy="256.38" r="2.6" fill="#466a98"/>
<circle cx="205.83" cy="259.50" r="2.6" fill="#466a98"/>
<circle cx="205.83" cy="262.62" r="2.6" fill="#466a98"/>
<circle cx="205.83" cy="265.75" r="2.6" fill="#466a98"/>
<circle cx="205.83" cy="268.88" r="2.6" fill="#466a98"/>
<circle cx="205.83" cy="272.00" r="2.6" fill="#466a98"/>
<circle cx="205.83" cy="277.00" r="2.6" fill="#466a98"/>
<circle cx="205.83" cy="279.67" r="2.6" fill="#466a98"/>
<circle cx="205.83" cy="282.33" r="2.6" fill="#466a98"/>
<circle cx="205.83" cy="285.00" r="2.6" fill="#466a98"/>
<rect x="194.83" y="245.1" width="22.0" height="12.50" fill="#d9d9d9" fill-opacity="0.72"/>
<rect x="194.83" y="257.6" width="22.0" height="17.00" fill="#ababab" fill-opacity="0.72"/>
<line x1="194.83" x2="216.83" y1="245.1" y2="245.1" stroke="#7a7a7a" stroke-width="1"/>
<line x1="194.83" x2="216.83" y1="274.6" y2="274.6" stroke="#7a7a7a" stroke-width="1"/>
<line x1="194.83" x2="216.83" y1="231.7" y2="231.7" stroke="#4d4d4d" stroke-width="1.6"/>
<line x1="194.83" x2="216.83" y1="286.6" y2="286.6" stroke="#4d4d4d" stroke-width="1.6"/>
<line x1="251.78" x2="251.78" y1="224.2" y2="250.7" stroke="#888888" stroke-width="1.3"/>
<line x1="251.78" x2="251.78" y1="274.5" y2="305.0" stroke="#888888" stroke-width="1.3"/>
<circle cx="251.78" cy="224.20" r="2.6" fill="#466a98"/>
<circle cx="251.78" cy="240.40" r="2.6" fill="#466a98"/>
<circle cx="251.78" cy="247.50" r="2.6" fill="#466a98"/>
<circle cx="251.78" cy="251.00" r="2.6" fill="#466a98"/>
<circle cx="251.78" cy="253.00" r="2.6" fill="#466a98"/>
<circle cx="251.78" cy="256.17" r="2.6" fill="#466a98"/>
<circle cx="251.78" cy="259.33" r="2.6" fill="#466a98"/>
<circle cx="251.78" cy="262.50" r="2.6" fill="#466a98"/>
<circle cx="251.78" cy="265.67" r="2.6" fill="#466a98"/>
<circle cx="251.78" cy="268.83" r="2.6" fill="#466a98"/>
<circle cx="251.78" cy="272.00" r="2.6" fill="#466a98"/>
<circle cx="251.78" cy="274.50" r="2.6" fill="#466a98"/>
<circle cx="251.78" cy="283.70" r="2.6" fill="#466a98"/>
<circle cx="251.78" cy="294.30" r="2.6" fill="#466a98"/>
<circle cx="251.78" cy="305.00" r="2.6" fill="#466a98"/>
<circle cx="251.78" cy="320.20" r="2.6" fill="#466a98"/>
<rect x="240.78" y="250.7" width="22.0" height="12.20" fill="#d9d9d9" fill-opacity="0.72"/>
<rect x="240.78" y="262.9" width="22.0" height="11.60" fill="#ababab" fill-opacity="0.72"/>
<line x1="240.78" x2="262.77" y1="250.7" y2="250.7" stroke="#7a7a7a" stroke-width="1"/>
<line x1="240.78" x2="262.77" y1="274.5" y2="274.5" stroke="#7a7a7a" stroke-width="1"/>
<line x1="240.78" x2="262.77" y1="224.2" y2="224.2" stroke="#4d4d4d" stroke-width="1.6"/>
<line x1="240.78" x2="262.77" y1="305.0" y2="305.0" stroke="#4d4d4d" stroke-width="1.6"/>
<line x1="297.73" x2="297.73" y1="207.4" y2="223.3" stroke="#888888" stroke-width="1.3"/>
<line x1="297.73" x2="297.73" y1="252.3" y2="273.6" stroke="#888888" stroke-width="1.3"/>
<circle cx="297.73" cy="208.00" r="2.6" fill="#466a98"/>
<circle cx="297.73" cy="210.67" r="2.6" fill="#466a98"/>
<circle cx="297.73" cy="213.33" r="2.6" fill="#466a98"/>
<circle cx="297.73" cy="216.00" r="2.6" fill="#466a98"/>
<circle cx="297.73" cy="225.00" r="2.6" fill="#466a98"/>
<circle cx="297.73" cy="228.12" r="2.6" fill="#466a98"/>
<circle cx="297.73" cy="231.25" r="2.6" fill="#466a98"/>
<circle cx="297.73" cy="234.38" r="2.6" fill="#466a98"/>
<circle cx="297.73" cy="237.50" r="2.6" fill="#466a98"/>
<circle cx="297.73" cy="240.62" r="2.6" fill="#466a98"/>
<circle cx="297.73" cy="243.75" r="2.6" fill="#466a98"/>
<circle cx="297.73" cy="246.88" r="2.6" fill="#466a98"/>
<circle cx="297.73" cy="250.00" r="2.6" fill="#466a98"/>
<circle cx="297.73" cy="253.60" r="2.6" fill="#466a98"/>
<circle cx="297.73" cy="256.95" r="2.6" fill="#466a98"/>
<circle cx="297.73" cy="260.30" r="2.6" fill="#466a98"/>
<circle cx="297.73" cy="273.60" r="2.6" fill="#466a98"/>
<rect x="286.73" y="223.3" width="22.0" height="11.60" fill="#d9d9d9" fill-opacity="0.72"/>
<rect x="286.73" y="234.9" width="22.0" height="17.40" fill="#ababab" fill-opacity="0.72"/>
<line x1="286.73" x2="308.73" y1="223.3" y2="223.3" stroke="#7a7a7a" stroke-width="1"/>
<line x1="286.73" x2="308.73" y1="252.3" y2="252.3" stroke="#7a7a7a" stroke-width="1"/>
<line x1="286.73" x2="308.73" y1="207.4" y2="207.4" stroke="#4d4d4d" stroke-width="1.6"/>
<line x1="286.73" x2="308.73" y1="273.6" y2="273.6" stroke="#4d4d4d" stroke-width="1.6"/>
<line x1="343.68" x2="343.68" y1="200.1" y2="239.5" stroke="#888888" stroke-width="1.3"/>
<line x1="343.68" x2="343.68" y1="270.9" y2="295.2" stroke="#888888" stroke-width="1.3"/>
<circle cx="343.68" cy="200.10" r="2.6" fill="#466a98"/>
<circle cx="343.68" cy="210.50" r="2.6" fill="#466a98"/>
<circle cx="343.68" cy="223.00" r="2.6" fill="#466a98"/>
<circle cx="343.68" cy="225.00" r="2.6" fill="#466a98"/>
<circle cx="343.68" cy="238.00" r="2.6" fill="#466a98"/>
<circle cx="343.68" cy="242.00" r="2.6" fill="#466a98"/>
<circle cx="343.68" cy="245.00" r="2.6" fill="#466a98"/>
<circle cx="343.68" cy="248.00" r="2.6" fill="#466a98"/>
<circle cx="343.68" cy="251.00" r="2.6" fill="#466a98"/>
<circle cx="343.68" cy="254.00" r="2.6" fill="#466a98"/>
<circle cx="343.68" cy="257.00" r="2.6" fill="#466a98"/>
<circle cx="343.68" cy="260.00" r="2.6" fill="#466a98"/>
<circle cx="343.68" cy="263.00" r="2.6" fill="#466a98"/>
<circle cx="343.68" cy="266.00" r="2.6" fill="#466a98"/>
<circle cx="343.68" cy="269.00" r="2.6" fill="#466a98"/>
<circle cx="343.68" cy="276.50" r="2.6" fill="#466a98"/>
<circle cx="343.68" cy="279.23" r="2.6" fill="#466a98"/>
<circle cx="343.68" cy="281.97" r="2.6" fill="#466a98"/>
<circle cx="343.68" cy="284.70" r="2.6" fill="#466a98"/>
<circle cx="343.68" cy="293.20" r="2.6" fill="#466a98"/>
<circle cx="343.68" cy="294.80" r="2.6" fill="#466a98"/>
<rect x="332.68" y="239.5" width="22.0" height="18.20" fill="#d9d9d9" fill-opacity="0.72"/>
<rect x="332.68" y="257.7" width="22.0" height="13.20" fill="#ababab" fill-opacity="0.72"/>
<line x1="332.68" x2="354.68" y1="239.5" y2="239.5" stroke="#7a7a7a" stroke-width="1"/>
<line x1="332.68" x2="354.68" y1="270.9" y2="270.9" stroke="#7a7a7a" stroke-width="1"/>
<line x1="332.68" x2="354.68" y1="200.1" y2="200.1" stroke="#4d4d4d" stroke-width="1.6"/>
<line x1="332.68" x2="354.68" y1="295.2" y2="295.2" stroke="#4d4d4d" stroke-width="1.6"/>
<line x1="389.62" x2="389.62" y1="239.5" y2="257.7" stroke="#888888" stroke-width="1.3"/>
<line x1="389.62" x2="389.62" y1="277.6" y2="306.5" stroke="#888888" stroke-width="1.3"/>
<circle cx="389.62" cy="227.30" r="2.6" fill="#466a98"/>
<circle cx="389.62" cy="239.50" r="2.6" fill="#466a98"/>
<circle cx="389.62" cy="250.00" r="2.6" fill="#466a98"/>
<circle cx="389.62" cy="254.70" r="2.6" fill="#466a98"/>
<circle cx="389.62" cy="260.00" r="2.6" fill="#466a98"/>
<circle cx="389.62" cy="263.00" r="2.6" fill="#466a98"/>
<circle cx="389.62" cy="266.00" r="2.6" fill="#466a98"/>
<circle cx="389.62" cy="269.00" r="2.6" fill="#466a98"/>
<circle cx="389.62" cy="272.00" r="2.6" fill="#466a98"/>
<circle cx="389.62" cy="275.00" r="2.6" fill="#466a98"/>
<circle cx="389.62" cy="278.00" r="2.6" fill="#466a98"/>
<circle cx="389.62" cy="286.70" r="2.6" fill="#466a98"/>
<circle cx="389.62" cy="295.20" r="2.6" fill="#466a98"/>
<circle cx="389.62" cy="306.50" r="2.6" fill="#466a98"/>
<rect x="378.62" y="257.7" width="22.0" height="9.80" fill="#d9d9d9" fill-opacity="0.72"/>
<rect x="378.62" y="267.5" width="22.0" height="10.10" fill="#ababab" fill-opacity="0.72"/>
<line x1="378.62" x2="400.62" y1="257.7" y2="257.7" stroke="#7a7a7a" stroke-width="1"/>
<line x1="378.62" x2="400.62" y1="277.6" y2="277.6" stroke="#7a7a7a" stroke-width="1"/>
<line x1="378.62" x2="400.62" y1="239.5" y2="239.5" stroke="#4d4d4d" stroke-width="1.6"/>
<line x1="378.62" x2="400.62" y1="306.5" y2="306.5" stroke="#4d4d4d" stroke-width="1.6"/>
<line x1="435.58" x2="435.58" y1="215.7" y2="248.0" stroke="#888888" stroke-width="1.3"/>
<line x1="435.58" x2="435.58" y1="281.2" y2="314.8" stroke="#888888" stroke-width="1.3"/>
<circle cx="435.58" cy="215.70" r="2.6" fill="#466a98"/>
<circle cx="435.58" cy="240.40" r="2.6" fill="#466a98"/>
<circle cx="435.58" cy="245.50" r="2.6" fill="#466a98"/>
<circle cx="435.58" cy="252.00" r="2.6" fill="#466a98"/>
<circle cx="435.58" cy="258.00" r="2.6" fill="#466a98"/>
<circle cx="435.58" cy="263.00" r="2.6" fill="#466a98"/>
<circle cx="435.58" cy="270.00" r="2.6" fill="#466a98"/>
<circle cx="435.58" cy="275.00" r="2.6" fill="#466a98"/>
<circle cx="435.58" cy="281.00" r="2.6" fill="#466a98"/>
<circle cx="435.58" cy="285.00" r="2.6" fill="#466a98"/>
<circle cx="435.58" cy="295.20" r="2.6" fill="#466a98"/>
<circle cx="435.58" cy="314.80" r="2.6" fill="#466a98"/>
<rect x="424.58" y="248.0" width="22.0" height="21.30" fill="#d9d9d9" fill-opacity="0.72"/>
<rect x="424.58" y="269.3" width="22.0" height="11.90" fill="#ababab" fill-opacity="0.72"/>
<line x1="424.58" x2="446.58" y1="248.0" y2="248.0" stroke="#7a7a7a" stroke-width="1"/>
<line x1="424.58" x2="446.58" y1="281.2" y2="281.2" stroke="#7a7a7a" stroke-width="1"/>
<line x1="424.58" x2="446.58" y1="215.7" y2="215.7" stroke="#4d4d4d" stroke-width="1.6"/>
<line x1="424.58" x2="446.58" y1="314.8" y2="314.8" stroke="#4d4d4d" stroke-width="1.6"/>
<line x1="481.53" x2="481.53" y1="216.6" y2="252.6" stroke="#888888" stroke-width="1.3"/>
<line x1="481.53" x2="481.53" y1="281.5" y2="299.8" stroke="#888888" stroke-width="1.3"/>
<circle cx="481.53" cy="216.60" r="2.6" fill="#466a98"/>
<circle cx="481.53" cy="231.80" r="2.6" fill="#466a98"/>
<circle cx="481.53" cy="239.50" r="2.6" fill="#466a98"/>
<circle cx="481.53" cy="246.50" r="2.6" fill="#466a98"/>
<circle cx="481.53" cy="253.00" r="2.6" fill="#466a98"/>
<circle cx="481.53" cy="258.00" r="2.6" fill="#466a98"/>
<circle cx="481.53" cy="261.00" r="2.6" fill="#466a98"/>
<circle cx="481.53" cy="264.00" r="2.6" fill="#466a98"/>
<circle cx="481.53" cy="267.00" r="2.6" fill="#466a98"/>
<circle cx="481.53" cy="270.00" r="2.6" fill="#466a98"/>
<circle cx="481.53" cy="273.00" r="2.6" fill="#466a98"/>
<circle cx="481.53" cy="276.00" r="2.6" fill="#466a98"/>
<circle cx="481.53" cy="279.00" r="2.6" fill="#466a98"/>
<circle cx="481.53" cy="288.20" r="2.6" fill="#466a98"/>
<circle cx="481.53" cy="294.30" r="2.6" fill="#466a98"/>
<circle cx="481.53" cy="299.50" r="2.6" fill="#466a98"/>
<rect x="470.53" y="252.6" width="22.0" height="16.40" fill="#d9d9d9" fill-opacity="0.72"/>
<rect x="470.53" y="269.0" width="22.0" height="12.50" fill="#ababab" fill-opacity="0.72"/>
<line x1="470.53" x2="492.53" y1="252.6" y2="252.6" stroke="#7a7a7a" stroke-width="1"/>
<line x1="470.53" x2="492.53" y1="281.5" y2="281.5" stroke="#7a7a7a" stroke-width="1"/>
<line x1="470.53" x2="492.53" y1="216.6" y2="216.6" stroke="#4d4d4d" stroke-width="1.6"/>
<line x1="470.53" x2="492.53" y1="299.8" y2="299.8" stroke="#4d4d4d" stroke-width="1.6"/>
<line x1="527.48" x2="527.48" y1="255.2" y2="255.4" stroke="#888888" stroke-width="1.3"/>
<line x1="527.48" x2="527.48" y1="269.0" y2="269.2" stroke="#888888" stroke-width="1.3"/>
<circle cx="527.48" cy="255.20" r="2.6" fill="#466a98"/>
<circle cx="527.48" cy="269.20" r="2.6" fill="#466a98"/>
<rect x="516.48" y="255.4" width="22.0" height="6.50" fill="#d9d9d9" fill-opacity="0.72"/>
<rect x="516.48" y="261.9" width="22.0" height="7.10" fill="#ababab" fill-opacity="0.72"/>
<line x1="516.48" x2="538.48" y1="255.4" y2="255.4" stroke="#7a7a7a" stroke-width="1"/>
<line x1="516.48" x2="538.48" y1="269.0" y2="269.0" stroke="#7a7a7a" stroke-width="1"/>
<line x1="516.48" x2="538.48" y1="255.2" y2="255.2" stroke="#8a8a8a" stroke-width="1.6"/>
<line x1="516.48" x2="538.48" y1="269.2" y2="269.2" stroke="#4d4d4d" stroke-width="1.6"/>
<line x1="573.43" x2="573.43" y1="220.7" y2="233.8" stroke="#888888" stroke-width="1.3"/>
<line x1="573.43" x2="573.43" y1="256.4" y2="275.0" stroke="#888888" stroke-width="1.3"/>
<circle cx="573.43" cy="182.60" r="2.6" fill="#466a98"/>
<circle cx="573.43" cy="220.70" r="2.6" fill="#466a98"/>
<circle cx="573.43" cy="226.00" r="2.6" fill="#466a98"/>
<circle cx="573.43" cy="229.00" r="2.6" fill="#466a98"/>
<circle cx="573.43" cy="232.00" r="2.6" fill="#466a98"/>
<circle cx="573.43" cy="236.00" r="2.6" fill="#466a98"/>
<circle cx="573.43" cy="239.00" r="2.6" fill="#466a98"/>
<circle cx="573.43" cy="242.00" r="2.6" fill="#466a98"/>
<circle cx="573.43" cy="245.00" r="2.6" fill="#466a98"/>
<circle cx="573.43" cy="248.00" r="2.6" fill="#466a98"/>
<circle cx="573.43" cy="251.00" r="2.6" fill="#466a98"/>
<circle cx="573.43" cy="254.00" r="2.6" fill="#466a98"/>
<circle cx="573.43" cy="257.00" r="2.6" fill="#466a98"/>
<circle cx="573.43" cy="260.00" r="2.6" fill="#466a98"/>
<circle cx="573.43" cy="263.40" r="2.6" fill="#466a98"/>
<circle cx="573.43" cy="274.00" r="2.6" fill="#466a98"/>
<rect x="562.43" y="233.8" width="22.0" height="14.40" fill="#d9d9d9" fill-opacity="0.72"/>
<rect x="562.43" y="248.2" width="22.0" height="8.20" fill="#ababab" fill-opacity="0.72"/>
<line x1="562.43" x2="584.43" y1="233.8" y2="233.8" stroke="#7a7a7a" stroke-width="1"/>
<line x1="562.43" x2="584.43" y1="256.4" y2="256.4" stroke="#7a7a7a" stroke-width="1"/>
<line x1="562.43" x2="584.43" y1="220.7" y2="220.7" stroke="#4d4d4d" stroke-width="1.6"/>
<line x1="562.43" x2="584.43" y1="275.0" y2="275.0" stroke="#4d4d4d" stroke-width="1.6"/>
<line x1="619.38" x2="619.38" y1="244.5" y2="254.9" stroke="#888888" stroke-width="1.3"/>
<line x1="619.38" x2="619.38" y1="275.6" y2="283.2" stroke="#888888" stroke-width="1.3"/>
<circle cx="619.38" cy="244.50" r="2.6" fill="#466a98"/>
<circle cx="619.38" cy="249.70" r="2.6" fill="#466a98"/>
<circle cx="619.38" cy="268.50" r="2.6" fill="#466a98"/>
<circle cx="619.38" cy="271.62" r="2.6" fill="#466a98"/>
<circle cx="619.38" cy="274.75" r="2.6" fill="#466a98"/>
<circle cx="619.38" cy="277.88" r="2.6" fill="#466a98"/>
<circle cx="619.38" cy="281.00" r="2.6" fill="#466a98"/>
<rect x="608.38" y="254.9" width="22.0" height="17.10" fill="#d9d9d9" fill-opacity="0.72"/>
<rect x="608.38" y="272.0" width="22.0" height="3.60" fill="#ababab" fill-opacity="0.72"/>
<line x1="608.38" x2="630.38" y1="254.9" y2="254.9" stroke="#7a7a7a" stroke-width="1"/>
<line x1="608.38" x2="630.38" y1="275.6" y2="275.6" stroke="#7a7a7a" stroke-width="1"/>
<line x1="608.38" x2="630.38" y1="244.5" y2="244.5" stroke="#4d4d4d" stroke-width="1.6"/>
<line x1="608.38" x2="630.38" y1="283.2" y2="283.2" stroke="#4d4d4d" stroke-width="1.6"/>
<line x1="67.97" x2="67.97" y1="339.0" y2="384.4" stroke="#888888" stroke-width="1.3"/>
<line x1="67.97" x2="67.97" y1="437.9" y2="460.7" stroke="#888888" stroke-width="1.3"/>
<circle cx="67.97" cy="339.00" r="2.6" fill="#466a98"/>
<circle cx="67.97" cy="364.70" r="2.6" fill="#466a98"/>
<circle cx="67.97" cy="370.30" r="2.6" fill="#466a98"/>
<circle cx="67.97" cy="377.00" r="2.6" fill="#466a98"/>
<circle cx="67.97" cy="383.70" r="2.6" fill="#466a98"/>
<circle cx="67.97" cy="399.00" r="2.6" fill="#466a98"/>
<circle cx="67.97" cy="401.50" r="2.6" fill="#466a98"/>
<circle cx="67.97" cy="404.00" r="2.6" fill="#466a98"/>
<circle cx="67.97" cy="419.50" r="2.6" fill="#466a98"/>
<circle cx="67.97" cy="430.00" r="2.6" fill="#466a98"/>
<circle cx="67.97" cy="432.50" r="2.6" fill="#466a98"/>
<circle cx="67.97" cy="435.00" r="2.6" fill="#466a98"/>
<circle cx="67.97" cy="441.00" r="2.6" fill="#466a98"/>
<circle cx="67.97" cy="444.75" r="2.6" fill="#466a98"/>
<circle cx="67.97" cy="448.50" r="2.6" fill="#466a98"/>
<circle cx="67.97" cy="460.70" r="2.6" fill="#466a98"/>
<rect x="56.97" y="384.4" width="22.0" height="28.80" fill="#d9d9d9" fill-opacity="0.72"/>
<rect x="56.97" y="413.2" width="22.0" height="24.70" fill="#ababab" fill-opacity="0.72"/>
<line x1="56.97" x2="78.97" y1="384.4" y2="384.4" stroke="#7a7a7a" stroke-width="1"/>
<line x1="56.97" x2="78.97" y1="437.9" y2="437.9" stroke="#7a7a7a" stroke-width="1"/>
<line x1="56.97" x2="78.97" y1="339.0" y2="339.0" stroke="#4d4d4d" stroke-width="1.6"/>
<line x1="56.97" x2="78.97" y1="460.7" y2="460.7" stroke="#4d4d4d" stroke-width="1.6"/>
<line x1="113.93" x2="113.93" y1="366.2" y2="398.2" stroke="#888888" stroke-width="1.3"/>
<line x1="113.93" x2="113.93" y1="422.8" y2="431.6" stroke="#888888" stroke-width="1.3"/>
<circle cx="113.93" cy="366.20" r="2.6" fill="#466a98"/>
<circle cx="113.93" cy="379.20" r="2.6" fill="#466a98"/>
<circle cx="113.93" cy="383.70" r="2.6" fill="#466a98"/>
<circle cx="113.93" cy="390.40" r="2.6" fill="#466a98"/>
<circle cx="113.93" cy="397.00" r="2.6" fill="#466a98"/>
<circle cx="113.93" cy="400.00" r="2.6" fill="#466a98"/>
<circle cx="113.93" cy="402.86" r="2.6" fill="#466a98"/>
<circle cx="113.93" cy="405.71" r="2.6" fill="#466a98"/>
<circle cx="113.93" cy="408.57" r="2.6" fill="#466a98"/>
<circle cx="113.93" cy="411.43" r="2.6" fill="#466a98"/>
<circle cx="113.93" cy="414.29" r="2.6" fill="#466a98"/>
<circle cx="113.93" cy="417.14" r="2.6" fill="#466a98"/>
<circle cx="113.93" cy="420.00" r="2.6" fill="#466a98"/>
<circle cx="113.93" cy="425.00" r="2.6" fill="#466a98"/>
<circle cx="113.93" cy="427.50" r="2.6" fill="#466a98"/>
<circle cx="113.93" cy="430.00" r="2.6" fill="#466a98"/>
<circle cx="113.93" cy="464.50" r="2.6" fill="#466a98"/>
<rect x="102.93" y="398.2" width="22.0" height="15.00" fill="#d9d9d9" fill-opacity="0.72"/>
<rect x="102.93" y="413.2" width="22.0" height="9.60" fill="#ababab" fill-opacity="0.72"/>
<line x1="102.93" x2="124.93" y1="398.2" y2="398.2" stroke="#7a7a7a" stroke-width="1"/>
<line x1="102.93" x2="124.93" y1="422.8" y2="422.8" stroke="#7a7a7a" stroke-width="1"/>
<line x1="102.93" x2="124.93" y1="366.2" y2="366.2" stroke="#4d4d4d" stroke-width="1.6"/>
<line x1="102.93" x2="124.93" y1="431.6" y2="431.6" stroke="#4d4d4d" stroke-width="1.6"/>
<line x1="159.88" x2="159.88" y1="354.1" y2="386.9" stroke="#888888" stroke-width="1.3"/>
<line x1="159.88" x2="159.88" y1="419.6" y2="428.2" stroke="#888888" stroke-width="1.3"/>
<circle cx="159.88" cy="354.10" r="2.6" fill="#466a98"/>
<circle cx="159.88" cy="374.00" r="2.6" fill="#466a98"/>
<circle cx="159.88" cy="376.30" r="2.6" fill="#466a98"/>
<circle cx="159.88" cy="378.60" r="2.6" fill="#466a98"/>
<circle cx="159.88" cy="385.20" r="2.6" fill="#466a98"/>
<circle cx="159.88" cy="386.80" r="2.6" fill="#466a98"/>
<circle cx="159.88" cy="397.70" r="2.6" fill="#466a98"/>
<circle cx="159.88" cy="405.00" r="2.6" fill="#466a98"/>
<circle cx="159.88" cy="408.14" r="2.6" fill="#466a98"/>
<circle cx="159.88" cy="411.29" r="2.6" fill="#466a98"/>
<circle cx="159.88" cy="414.43" r="2.6" fill="#466a98"/>
<circle cx="159.88" cy="417.57" r="2.6" fill="#466a98"/>
<circle cx="159.88" cy="420.71" r="2.6" fill="#466a98"/>
<circle cx="159.88" cy="423.86" r="2.6" fill="#466a98"/>
<circle cx="159.88" cy="427.00" r="2.6" fill="#466a98"/>
<rect x="148.88" y="386.9" width="22.0" height="21.60" fill="#d9d9d9" fill-opacity="0.72"/>
<rect x="148.88" y="408.5" width="22.0" height="11.10" fill="#ababab" fill-opacity="0.72"/>
<line x1="148.88" x2="170.88" y1="386.9" y2="386.9" stroke="#7a7a7a" stroke-width="1"/>
<line x1="148.88" x2="170.88" y1="419.6" y2="419.6" stroke="#7a7a7a" stroke-width="1"/>
<line x1="148.88" x2="170.88" y1="354.1" y2="354.1" stroke="#4d4d4d" stroke-width="1.6"/>
<line x1="148.88" x2="170.88" y1="428.2" y2="428.2" stroke="#4d4d4d" stroke-width="1.6"/>
<line x1="205.83" x2="205.83" y1="387.1" y2="416.8" stroke="#888888" stroke-width="1.3"/>
<line x1="205.83" x2="205.83" y1="438.1" y2="454.1" stroke="#888888" stroke-width="1.3"/>
<circle cx="205.83" cy="387.10" r="2.6" fill="#466a98"/>
<circle cx="205.83" cy="400.50" r="2.6" fill="#466a98"/>
<circle cx="205.83" cy="408.00" r="2.6" fill="#466a98"/>
<circle cx="205.83" cy="410.50" r="2.6" fill="#466a98"/>
<circle cx="205.83" cy="413.00" r="2.6" fill="#466a98"/>
<circle cx="205.83" cy="419.60" r="2.6" fill="#466a98"/>
<circle cx="205.83" cy="422.65" r="2.6" fill="#466a98"/>
<circle cx="205.83" cy="425.70" r="2.6" fill="#466a98"/>
<circle cx="205.83" cy="428.75" r="2.6" fill="#466a98"/>
<circle cx="205.83" cy="431.80" r="2.6" fill="#466a98"/>
<circle cx="205.83" cy="434.85" r="2.6" fill="#466a98"/>
<circle cx="205.83" cy="437.90" r="2.6" fill="#466a98"/>
<circle cx="205.83" cy="440.95" r="2.6" fill="#466a98"/>
<circle cx="205.83" cy="444.00" r="2.6" fill="#466a98"/>
<circle cx="205.83" cy="454.10" r="2.6" fill="#466a98"/>
<rect x="194.83" y="416.8" width="22.0" height="14.20" fill="#d9d9d9" fill-opacity="0.72"/>
<rect x="194.83" y="431.0" width="22.0" height="7.10" fill="#ababab" fill-opacity="0.72"/>
<line x1="194.83" x2="216.83" y1="416.8" y2="416.8" stroke="#7a7a7a" stroke-width="1"/>
<line x1="194.83" x2="216.83" y1="438.1" y2="438.1" stroke="#7a7a7a" stroke-width="1"/>
<line x1="194.83" x2="216.83" y1="387.1" y2="387.1" stroke="#4d4d4d" stroke-width="1.6"/>
<line x1="194.83" x2="216.83" y1="454.1" y2="454.1" stroke="#4d4d4d" stroke-width="1.6"/>
<line x1="251.78" x2="251.78" y1="383.4" y2="405.4" stroke="#888888" stroke-width="1.3"/>
<line x1="251.78" x2="251.78" y1="438.1" y2="447.5" stroke="#888888" stroke-width="1.3"/>
<circle cx="251.78" cy="384.55" r="2.6" fill="#466a98"/>
<circle cx="251.78" cy="386.15" r="2.6" fill="#466a98"/>
<circle cx="251.78" cy="398.00" r="2.6" fill="#466a98"/>
<circle cx="251.78" cy="400.50" r="2.6" fill="#466a98"/>
<circle cx="251.78" cy="403.00" r="2.6" fill="#466a98"/>
<circle cx="251.78" cy="413.00" r="2.6" fill="#466a98"/>
<circle cx="251.78" cy="432.00" r="2.6" fill="#466a98"/>
<circle cx="251.78" cy="435.38" r="2.6" fill="#466a98"/>
<circle cx="251.78" cy="438.75" r="2.6" fill="#466a98"/>
<circle cx="251.78" cy="442.12" r="2.6" fill="#466a98"/>
<circle cx="251.78" cy="445.50" r="2.6" fill="#466a98"/>
<rect x="240.78" y="405.4" width="22.0" height="29.90" fill="#d9d9d9" fill-opacity="0.72"/>
<rect x="240.78" y="435.3" width="22.0" height="2.80" fill="#ababab" fill-opacity="0.72"/>
<line x1="240.78" x2="262.77" y1="405.4" y2="405.4" stroke="#7a7a7a" stroke-width="1"/>
<line x1="240.78" x2="262.77" y1="438.1" y2="438.1" stroke="#7a7a7a" stroke-width="1"/>
<line x1="240.78" x2="262.77" y1="383.4" y2="383.4" stroke="#4d4d4d" stroke-width="1.6"/>
<line x1="240.78" x2="262.77" y1="447.5" y2="447.5" stroke="#4d4d4d" stroke-width="1.6"/>
<line x1="297.73" x2="297.73" y1="366.3" y2="401.4" stroke="#888888" stroke-width="1.3"/>
<line x1="297.73" x2="297.73" y1="427.6" y2="440.4" stroke="#888888" stroke-width="1.3"/>
<circle cx="297.73" cy="352.70" r="2.6" fill="#466a98"/>
<circle cx="297.73" cy="366.30" r="2.6" fill="#466a98"/>
<circle cx="297.73" cy="387.45" r="2.6" fill="#466a98"/>
<circle cx="297.73" cy="389.05" r="2.6" fill="#466a98"/>
<circle cx="297.73" cy="399.70" r="2.6" fill="#466a98"/>
<circle cx="297.73" cy="401.00" r="2.6" fill="#466a98"/>
<circle cx="297.73" cy="405.00" r="2.6" fill="#466a98"/>
<circle cx="297.73" cy="407.86" r="2.6" fill="#466a98"/>
<circle cx="297.73" cy="410.71" r="2.6" fill="#466a98"/>
<circle cx="297.73" cy="413.57" r="2.6" fill="#466a98"/>
<circle cx="297.73" cy="416.43" r="2.6" fill="#466a98"/>
<circle cx="297.73" cy="419.29" r="2.6" fill="#466a98"/>
<circle cx="297.73" cy="422.14" r="2.6" fill="#466a98"/>
<circle cx="297.73" cy="425.00" r="2.6" fill="#466a98"/>
<circle cx="297.73" cy="431.00" r="2.6" fill="#466a98"/>
<circle cx="297.73" cy="434.70" r="2.6" fill="#466a98"/>
<circle cx="297.73" cy="438.40" r="2.6" fill="#466a98"/>
<rect x="286.73" y="401.4" width="22.0" height="13.40" fill="#d9d9d9" fill-opacity="0.72"/>
<rect x="286.73" y="414.8" width="22.0" height="12.80" fill="#ababab" fill-opacity="0.72"/>
<line x1="286.73" x2="308.73" y1="401.4" y2="401.4" stroke="#7a7a7a" stroke-width="1"/>
<line x1="286.73" x2="308.73" y1="427.6" y2="427.6" stroke="#7a7a7a" stroke-width="1"/>
<line x1="286.73" x2="308.73" y1="366.3" y2="366.3" stroke="#4d4d4d" stroke-width="1.6"/>
<line x1="286.73" x2="308.73" y1="440.4" y2="440.4" stroke="#4d4d4d" stroke-width="1.6"/>
<line x1="343.68" x2="343.68" y1="381.2" y2="405.4" stroke="#888888" stroke-width="1.3"/>
<line x1="343.68" x2="343.68" y1="426.2" y2="443.8" stroke="#888888" stroke-width="1.3"/>
<circle cx="343.68" cy="364.00" r="2.6" fill="#466a98"/>
<circle cx="343.68" cy="381.20" r="2.6" fill="#466a98"/>
<circle cx="343.68" cy="393.40" r="2.6" fill="#466a98"/>
<circle cx="343.68" cy="397.70" r="2.6" fill="#466a98"/>
<circle cx="343.68" cy="403.40" r="2.6" fill="#466a98"/>
<circle cx="343.68" cy="407.00" r="2.6" fill="#466a98"/>
<circle cx="343.68" cy="409.83" r="2.6" fill="#466a98"/>
<circle cx="343.68" cy="412.67" r="2.6" fill="#466a98"/>
<circle cx="343.68" cy="415.50" r="2.6" fill="#466a98"/>
<circle cx="343.68" cy="418.33" r="2.6" fill="#466a98"/>
<circle cx="343.68" cy="421.17" r="2.6" fill="#466a98"/>
<circle cx="343.68" cy="424.00" r="2.6" fill="#466a98"/>
<circle cx="343.68" cy="428.00" r="2.6" fill="#466a98"/>
<circle cx="343.68" cy="430.94" r="2.6" fill="#466a98"/>
<circle cx="343.68" cy="433.88" r="2.6" fill="#466a98"/>
<circle cx="343.68" cy="436.82" r="2.6" fill="#466a98"/>
<circle cx="343.68" cy="439.76" r="2.6" fill="#466a98"/>
<circle cx="343.68" cy="442.70" r="2.6" fill="#466a98"/>
<rect x="332.68" y="405.4" width="22.0" height="9.40" fill="#d9d9d9" fill-opacity="0.72"/>
<rect x="332.68" y="414.8" width="22.0" height="11.40" fill="#ababab" fill-opacity="0.72"/>
<line x1="332.68" x2="354.68" y1="405.4" y2="405.4" stroke="#7a7a7a" stroke-width="1"/>
<line x1="332.68" x2="354.68" y1="426.2" y2="426.2" stroke="#7a7a7a" stroke-width="1"/>
<line x1="332.68" x2="354.68" y1="381.2" y2="381.2" stroke="#4d4d4d" stroke-width="1.6"/>
<line x1="332.68" x2="354.68" y1="443.8" y2="443.8" stroke="#4d4d4d" stroke-width="1.6"/>
<line x1="389.62" x2="389.62" y1="394.7" y2="421.3" stroke="#888888" stroke-width="1.3"/>
<line x1="389.62" x2="389.62" y1="441.4" y2="454.2" stroke="#888888" stroke-width="1.3"/>
<circle cx="389.62" cy="394.70" r="2.6" fill="#466a98"/>
<circle cx="389.62" cy="417.95" r="2.6" fill="#466a98"/>
<circle cx="389.62" cy="419.55" r="2.6" fill="#466a98"/>
<circle cx="389.62" cy="423.00" r="2.6" fill="#466a98"/>
<circle cx="389.62" cy="426.20" r="2.6" fill="#466a98"/>
<circle cx="389.62" cy="429.40" r="2.6" fill="#466a98"/>
<circle cx="389.62" cy="432.60" r="2.6" fill="#466a98"/>
<circle cx="389.62" cy="435.80" r="2.6" fill="#466a98"/>
<circle cx="389.62" cy="439.00" r="2.6" fill="#466a98"/>
<circle cx="389.62" cy="443.00" r="2.6" fill="#466a98"/>
<circle cx="389.62" cy="446.33" r="2.6" fill="#466a98"/>
<circle cx="389.62" cy="449.67" r="2.6" fill="#466a98"/>
<circle cx="389.62" cy="453.00" r="2.6" fill="#466a98"/>
<circle cx="389.62" cy="475.60" r="2.6" fill="#466a98"/>
<rect x="378.62" y="421.3" width="22.0" height="9.50" fill="#d9d9d9" fill-opacity="0.72"/>
<rect x="378.62" y="430.8" width="22.0" height="10.60" fill="#ababab" fill-opacity="0.72"/>
<line x1="378.62" x2="400.62" y1="421.3" y2="421.3" stroke="#7a7a7a" stroke-width="1"/>
<line x1="378.62" x2="400.62" y1="441.4" y2="441.4" stroke="#7a7a7a" stroke-width="1"/>
<line x1="378.62" x2="400.62" y1="394.7" y2="394.7" stroke="#4d4d4d" stroke-width="1.6"/>
<line x1="378.62" x2="400.62" y1="454.2" y2="454.2" stroke="#4d4d4d" stroke-width="1.6"/>
<line x1="435.58" x2="435.58" y1="402.1" y2="419.7" stroke="#888888" stroke-width="1.3"/>
<line x1="435.58" x2="435.58" y1="434.7" y2="454.2" stroke="#888888" stroke-width="1.3"/>
<circle cx="435.58" cy="402.10" r="2.6" fill="#466a98"/>
<circle cx="435.58" cy="411.70" r="2.6" fill="#466a98"/>
<circle cx="435.58" cy="413.30" r="2.6" fill="#466a98"/>
<circle cx="435.58" cy="419.70" r="2.6" fill="#466a98"/>
<circle cx="435.58" cy="429.70" r="2.6" fill="#466a98"/>
<circle cx="435.58" cy="433.25" r="2.6" fill="#466a98"/>
<circle cx="435.58" cy="436.80" r="2.6" fill="#466a98"/>
<circle cx="435.58" cy="454.20" r="2.6" fill="#466a98"/>
<rect x="424.58" y="419.7" width="22.0" height="10.50" fill="#d9d9d9" fill-opacity="0.72"/>
<rect x="424.58" y="430.2" width="22.0" height="4.50" fill="#ababab" fill-opacity="0.72"/>
<line x1="424.58" x2="446.58" y1="419.7" y2="419.7" stroke="#7a7a7a" stroke-width="1"/>
<line x1="424.58" x2="446.58" y1="434.7" y2="434.7" stroke="#7a7a7a" stroke-width="1"/>
<line x1="424.58" x2="446.58" y1="402.1" y2="402.1" stroke="#4d4d4d" stroke-width="1.6"/>
<line x1="424.58" x2="446.58" y1="454.2" y2="454.2" stroke="#4d4d4d" stroke-width="1.6"/>
<line x1="481.53" x2="481.53" y1="407.5" y2="426.7" stroke="#888888" stroke-width="1.3"/>
<line x1="481.53" x2="481.53" y1="446.8" y2="475.6" stroke="#888888" stroke-width="1.3"/>
<circle cx="481.53" cy="393.50" r="2.6" fill="#466a98"/>
<circle cx="481.53" cy="407.50" r="2.6" fill="#466a98"/>
<circle cx="481.53" cy="414.20" r="2.6" fill="#466a98"/>
<circle cx="481.53" cy="421.30" r="2.6" fill="#466a98"/>
<circle cx="481.53" cy="429.00" r="2.6" fill="#466a98"/>
<circle cx="481.53" cy="432.00" r="2.6" fill="#466a98"/>
<circle cx="481.53" cy="435.00" r="2.6" fill="#466a98"/>
<circle cx="481.53" cy="438.00" r="2.6" fill="#466a98"/>
<circle cx="481.53" cy="441.00" r="2.6" fill="#466a98"/>
<circle cx="481.53" cy="444.00" r="2.6" fill="#466a98"/>
<circle cx="481.53" cy="446.80" r="2.6" fill="#466a98"/>
<circle cx="481.53" cy="455.40" r="2.6" fill="#466a98"/>
<circle cx="481.53" cy="462.80" r="2.6" fill="#466a98"/>
<circle cx="481.53" cy="473.00" r="2.6" fill="#466a98"/>
<circle cx="481.53" cy="474.60" r="2.6" fill="#466a98"/>
<rect x="470.53" y="426.7" width="22.0" height="4.80" fill="#d9d9d9" fill-opacity="0.72"/>
<rect x="470.53" y="431.5" width="22.0" height="15.30" fill="#ababab" fill-opacity="0.72"/>
<line x1="470.53" x2="492.53" y1="426.7" y2="426.7" stroke="#7a7a7a" stroke-width="1"/>
<line x1="470.53" x2="492.53" y1="446.8" y2="446.8" stroke="#7a7a7a" stroke-width="1"/>
<line x1="470.53" x2="492.53" y1="407.5" y2="407.5" stroke="#4d4d4d" stroke-width="1.6"/>
<line x1="470.53" x2="492.53" y1="475.6" y2="475.6" stroke="#4d4d4d" stroke-width="1.6"/>
<line x1="527.48" x2="527.48" y1="406.9" y2="407.1" stroke="#888888" stroke-width="1.3"/>
<line x1="527.48" x2="527.48" y1="435.4" y2="435.6" stroke="#888888" stroke-width="1.3"/>
<circle cx="527.48" cy="406.90" r="2.6" fill="#466a98"/>
<circle cx="527.48" cy="435.60" r="2.6" fill="#466a98"/>
<rect x="516.48" y="407.1" width="22.0" height="14.20" fill="#d9d9d9" fill-opacity="0.72"/>
<rect x="516.48" y="421.3" width="22.0" height="14.10" fill="#ababab" fill-opacity="0.72"/>
<line x1="516.48" x2="538.48" y1="407.1" y2="407.1" stroke="#7a7a7a" stroke-width="1"/>
<line x1="516.48" x2="538.48" y1="435.4" y2="435.4" stroke="#7a7a7a" stroke-width="1"/>
<line x1="516.48" x2="538.48" y1="406.9" y2="406.9" stroke="#8a8a8a" stroke-width="1.6"/>
<line x1="516.48" x2="538.48" y1="435.6" y2="435.6" stroke="#4d4d4d" stroke-width="1.6"/>
<line x1="573.43" x2="573.43" y1="407.8" y2="417.4" stroke="#888888" stroke-width="1.3"/>
<line x1="573.43" x2="573.43" y1="427.7" y2="441.1" stroke="#888888" stroke-width="1.3"/>
<circle cx="573.43" cy="400.50" r="2.6" fill="#466a98"/>
<circle cx="573.43" cy="407.80" r="2.6" fill="#466a98"/>
<circle cx="573.43" cy="413.50" r="2.6" fill="#466a98"/>
<circle cx="573.43" cy="415.50" r="2.6" fill="#466a98"/>
<circle cx="573.43" cy="421.00" r="2.6" fill="#466a98"/>
<circle cx="573.43" cy="424.00" r="2.6" fill="#466a98"/>
<circle cx="573.43" cy="427.00" r="2.6" fill="#466a98"/>
<circle cx="573.43" cy="430.00" r="2.6" fill="#466a98"/>
<circle cx="573.43" cy="437.00" r="2.6" fill="#466a98"/>
<circle cx="573.43" cy="441.00" r="2.6" fill="#466a98"/>
<circle cx="573.43" cy="467.60" r="2.6" fill="#466a98"/>
<rect x="562.43" y="417.4" width="22.0" height="7.10" fill="#d9d9d9" fill-opacity="0.72"/>
<rect x="562.43" y="424.5" width="22.0" height="3.20" fill="#ababab" fill-opacity="0.72"/>
<line x1="562.43" x2="584.43" y1="417.4" y2="417.4" stroke="#7a7a7a" stroke-width="1"/>
<line x1="562.43" x2="584.43" y1="427.7" y2="427.7" stroke="#7a7a7a" stroke-width="1"/>
<line x1="562.43" x2="584.43" y1="407.8" y2="407.8" stroke="#4d4d4d" stroke-width="1.6"/>
<line x1="562.43" x2="584.43" y1="441.1" y2="441.1" stroke="#4d4d4d" stroke-width="1.6"/>
<line x1="619.38" x2="619.38" y1="401.5" y2="413.3" stroke="#888888" stroke-width="1.3"/>
<line x1="619.38" x2="619.38" y1="441.1" y2="457.4" stroke="#888888" stroke-width="1.3"/>
<circle cx="619.38" cy="401.50" r="2.6" fill="#466a98"/>
<circle cx="619.38" cy="404.83" r="2.6" fill="#466a98"/>
<circle cx="619.38" cy="408.17" r="2.6" fill="#466a98"/>
<circle cx="619.38" cy="411.50" r="2.6" fill="#466a98"/>
<circle cx="619.38" cy="413.00" r="2.6" fill="#466a98"/>
<circle cx="619.38" cy="416.00" r="2.6" fill="#466a98"/>
<circle cx="619.38" cy="419.00" r="2.6" fill="#466a98"/>
<circle cx="619.38" cy="422.00" r="2.6" fill="#466a98"/>
<circle cx="619.38" cy="425.00" r="2.6" fill="#466a98"/>
<circle cx="619.38" cy="428.00" r="2.6" fill="#466a98"/>
<circle cx="619.38" cy="431.00" r="2.6" fill="#466a98"/>
<circle cx="619.38" cy="434.00" r="2.6" fill="#466a98"/>
<circle cx="619.38" cy="437.00" r="2.6" fill="#466a98"/>
<circle cx="619.38" cy="440.00" r="2.6" fill="#466a98"/>
<circle cx="619.38" cy="443.00" r="2.6" fill="#466a98"/>
<circle cx="619.38" cy="451.00" r="2.6" fill="#466a98"/>
<circle cx="619.38" cy="457.40" r="2.6" fill="#466a98"/>
<rect x="608.38" y="413.3" width="22.0" height="14.40" fill="#d9d9d9" fill-opacity="0.72"/>
<rect x="608.38" y="427.7" width="22.0" height="13.40" fill="#ababab" fill-opacity="0.72"/>
<line x1="608.38" x2="630.38" y1="413.3" y2="413.3" stroke="#7a7a7a" stroke-width="1"/>
<line x1="608.38" x2="630.38" y1="441.1" y2="441.1" stroke="#7a7a7a" stroke-width="1"/>
<line x1="608.38" x2="630.38" y1="401.5" y2="401.5" stroke="#4d4d4d" stroke-width="1.6"/>
<line x1="608.38" x2="630.38" y1="457.4" y2="457.4" stroke="#4d4d4d" stroke-width="1.6"/>
<text x="47.00" y="120.0" font-size="8.5" fill="#666" letter-spacing="0.3">42.5N</text>
<text x="92.95" y="120.0" font-size="8.5" fill="#666" letter-spacing="0.3">42.5N</text>
<text x="230.80" y="120.0" font-size="8.5" fill="#666" letter-spacing="0.3">42.5N</text>
<text x="368.65" y="120.0" font-size="8.5" fill="#666" letter-spacing="0.3">42.5N</text>
<text x="506.50" y="120.0" font-size="8.5" fill="#666" letter-spacing="0.3">42.5N</text>
<text transform="translate(618.5 79.7) scale(0.8 1)" font-size="27" fill="#c0404a" stroke="#c0404a" stroke-width="0.3" text-anchor="middle">?</text>
</g></svg></body></html>
